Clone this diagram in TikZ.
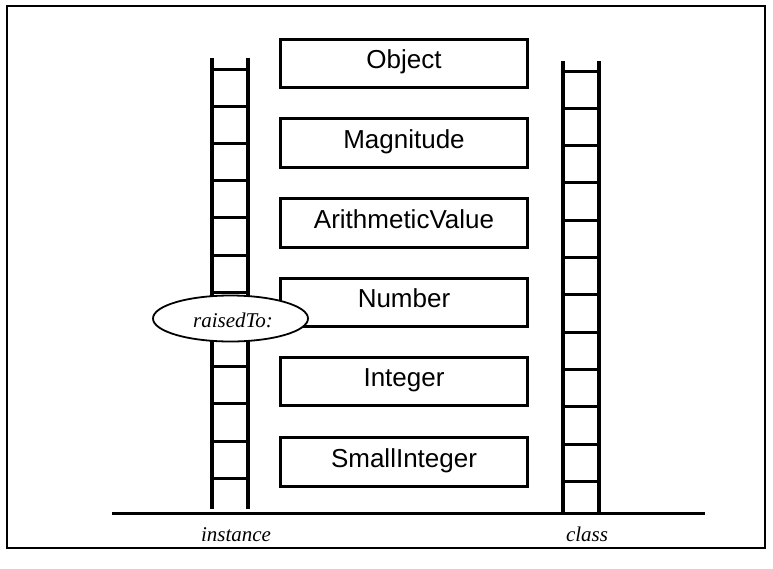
\documentclass[tikz,border=0pt]{standalone}
\usepackage{fontspec}
\setmainfont{Liberation Serif}
\newfontfamily\arialfont{Liberation Sans}
\usetikzlibrary{shapes.geometric}
\tikzset{
  cls/.style={draw, line width=2.7pt, minimum width=247pt, minimum height=48.5pt, inner sep=0pt,
    font=\arialfont\fontsize{26}{30}\selectfont, text height=19pt, text depth=9pt},
  rail/.style={line width=3.2pt},
  rung/.style={line width=3pt},
  lbl/.style={font=\itshape\fontsize{21}{25}\selectfont, inner sep=0pt, anchor=base},
  oval/.style={draw, ellipse, fill=white, line width=1.8pt, minimum width=155pt, minimum height=46pt, inner sep=0pt},
}
\begin{document}
\begin{tikzpicture}[x=1pt,y=-1pt]
\useasboundingbox (0,0) rectangle (773,568);
\draw[line width=2pt] (7,6) rectangle (765,548);
% class boxes
\node[cls] (obj) at (404,63.5) {Object};
\node[cls] (mag) at (404,143) {Magnitude};
\node[cls] (arv) at (404,223) {ArithmeticValue};
\node[cls] (num) at (404,302.5) {Number};
\node[cls] (int) at (404,381.5) {Integer};
\node[cls] (smi) at (404,462) {SmallInteger};
% left ladder (instance)
\draw[rail] (212,58) -- (212,509);
\draw[rail] (248,58) -- (248,509);
\foreach \i in {0,...,11} \draw[rung] (212,{69+37.2*\i}) -- (248,{69+37.2*\i});
% right ladder (class)
\draw[rail] (563,61) -- (563,513);
\draw[rail] (599,61) -- (599,513);
\foreach \i in {0,...,11} \draw[rung] (563,{71+37.3*\i}) -- (599,{71+37.3*\i});
% ground
\coordinate (gl) at (112,513);
\coordinate (gr) at (705,513);
\draw[line width=3pt] (gl) -- (gr);
% method oval
\node[oval] (rt) at (230.5,318.5) {};
\node[lbl] (rtl) at (233,327) {raisedTo:};
% labels
\node[lbl] (inst) at (236,541) {instance};
\node[lbl] (clsl) at (587,541) {class};
\end{tikzpicture}
\end{document}
